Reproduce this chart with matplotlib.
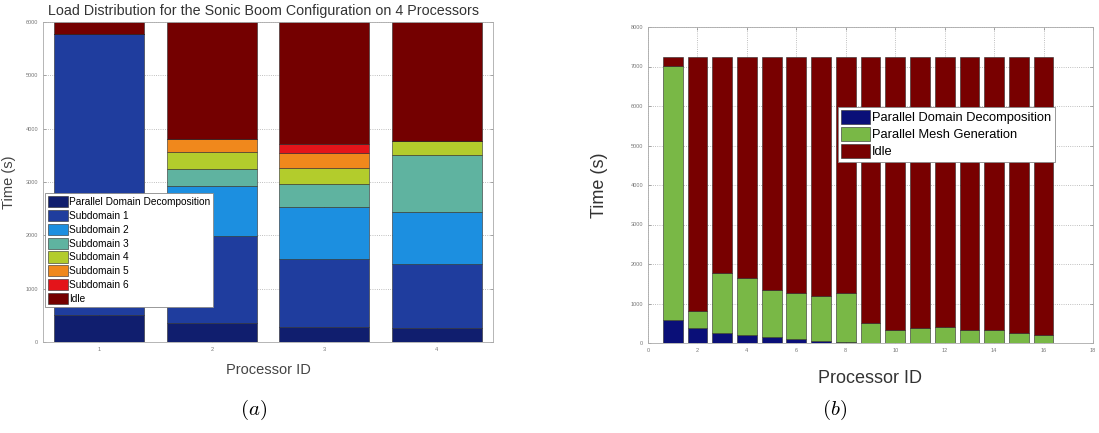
import numpy as np
import matplotlib
matplotlib.use("Agg")
import matplotlib.pyplot as plt

plt.rcParams['font.family'] = ['Liberation Sans', 'DejaVu Sans']
plt.rcParams['mathtext.fontset'] = 'cm'

# ---- (a) 4 processors, stacked per-phase times ----
procs_a = [1, 2, 3, 4]
labels_a = ["Parallel Domain Decomposition", "Subdomain 1", "Subdomain 2",
            "Subdomain 3", "Subdomain 4", "Subdomain 5", "Subdomain 6", "Idle"]
pdd_a = [500, 360, 280, 270]
sub1_a = [5280, 1620, 1280, 1190]
sub2_a = [0, 950, 970, 970]
sub3_a = [0, 310, 430, 1070]
sub4_a = [0, 330, 310, 260]
sub5_a = [0, 230, 270, 0]
sub6_a = [0, 0, 180, 0]
idle_a = [220, 2200, 2280, 2240]
colors_a = ["#101e6e", "#1f3d9e", "#1c8fe0", "#5fb3a0", "#b3cc2c",
            "#f0881c", "#e4141a", "#740000"]

# ---- (b) 16 processors ----
procs_b = list(range(1, 17))
pdd_b = [590, 390, 260, 190, 150, 100, 50, 20, 0, 0, 0, 0, 0, 0, 0, 0]
pmg_b = [6430, 410, 1520, 1460, 1190, 1160, 1140, 1240, 500, 340, 380, 410, 320, 320, 250, 190]
total_b = 7250
idle_b = [total_b - p - m for p, m in zip(pdd_b, pmg_b)]
labels_b = ["Parallel Domain Decomposition", "Parallel Mesh Generation", "Idle"]
colors_b = ["#0a0f78", "#79b846", "#780000"]

W, H = 1099, 433
fig = plt.figure(figsize=(W / 100, H / 100), dpi=100)


def px_axes(x0, y0, x1, y1):
    return fig.add_axes([x0 / W, 1 - y1 / H, (x1 - x0) / W, (y1 - y0) / H])


def style(ax):
    ax.grid(True, linestyle=':', color='#aaaaaa', linewidth=0.6)
    ax.set_axisbelow(True)
    ax.tick_params(axis='both', direction='in', length=2.5, width=0.5,
                   labelsize=4, labelcolor='#777777', color='#888888',
                   right=True, top=True)
    for s in ax.spines.values():
        s.set_color('#aaaaaa')
        s.set_linewidth(0.6)


# ---------- panel (a) ----------
axa = px_axes(43, 22, 493, 342)
series_a = [pdd_a, sub1_a, sub2_a, sub3_a, sub4_a, sub5_a, sub6_a, idle_a]
bottom = np.zeros(len(procs_a))
for vals, c, lab in zip(series_a, colors_a, labels_a):
    axa.bar(procs_a, vals, width=0.8, bottom=bottom, color=c,
            edgecolor='#2a2a2a', linewidth=0.4, label=lab)
    bottom += np.array(vals)
axa.set_xlim(0.5, 4.5)
axa.set_ylim(0, 6000)
axa.set_xticks(procs_a)
axa.set_yticks(range(0, 6001, 1000))
style(axa)
axa.set_xlabel("Processor ID", fontsize=10.5, color='#444444')
axa.xaxis.set_label_coords(0.5, -0.065)
axa.set_ylabel("Time (s)", fontsize=10.5, color='#444444')
axa.yaxis.set_label_coords(-0.06, 0.5)
fig.text(264 / W, 1 - 11 / H, "Load Distribution for the Sonic Boom Configuration on 4 Processors",
         ha='center', va='center', fontsize=10.3, color='#333333')
leg = axa.legend(loc='upper left', bbox_to_anchor=(0.004, 0.466), borderaxespad=0,
                 fontsize=7.3, handlelength=2.0, handleheight=1.3, handletextpad=0.1,
                 labelspacing=0.28, borderpad=0.3, fancybox=False, framealpha=1,
                 edgecolor='#888888')
leg.get_frame().set_linewidth(0.6)

# ---------- panel (b) ----------
axb = px_axes(648, 27, 1093, 343)
bottom = np.zeros(len(procs_b))
for vals, c, lab in zip([pdd_b, pmg_b, idle_b], colors_b, labels_b):
    axb.bar(procs_b, vals, width=0.8, bottom=bottom, color=c,
            edgecolor='#2a2a2a', linewidth=0.4, label=lab)
    bottom += np.array(vals)
axb.set_xlim(0, 18)
axb.set_ylim(0, 8000)
axb.set_xticks(range(0, 19, 2))
axb.set_yticks(range(0, 8001, 1000))
style(axb)
axb.set_xlabel("Processor ID", fontsize=13, color='#333333')
axb.xaxis.set_label_coords(0.5, -0.085)
axb.set_ylabel("Time (s)", fontsize=13, color='#333333')
axb.yaxis.set_label_coords(-0.09, 0.5)
legb = axb.legend(loc='upper left', bbox_to_anchor=(0.427, 0.747), borderaxespad=0,
                  fontsize=9.3, handlelength=2.2, handleheight=1.25, handletextpad=0.2,
                  labelspacing=0.22, borderpad=0.25, fancybox=False, framealpha=1,
                  edgecolor='#888888')
legb.get_frame().set_linewidth(0.6)

fig.text(254 / W, 1 - 410 / H, r"$(a)$", ha='center', va='center', fontsize=15)
fig.text(835 / W, 1 - 410 / H, r"$(b)$", ha='center', va='center', fontsize=15)

fig.savefig("out.png", dpi=100)
